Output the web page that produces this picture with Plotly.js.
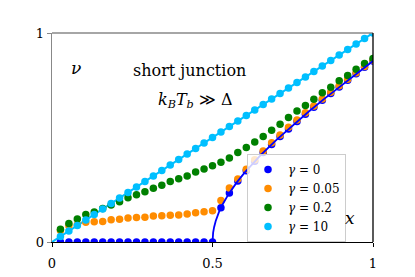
<!DOCTYPE html>
<html>
<head>
<meta charset="utf-8">
<script src="https://cdn.plot.ly/plotly-3.0.1.min.js"></script>
<style>html,body{margin:0;padding:0;background:#fff;}#chart{width:415px;height:277px;}</style>
</head>
<body>
<div id="chart"></div>
<script>
// grid x = k/38, k = 1..38
const xPts = [0.0263,0.0526,0.0789,0.1053,0.1316,0.1579,0.1842,0.2105,0.2368,0.2632,
  0.2895,0.3158,0.3421,0.3684,0.3947,0.4211,0.4474,0.4737,0.5,0.5263,
  0.5526,0.5789,0.6053,0.6316,0.6579,0.6842,0.7105,0.7368,0.7632,0.7895,
  0.8158,0.8421,0.8684,0.8947,0.9211,0.9474,0.9737,1.0];
const nuG0 = [0,0,0,0,0,0,0,0,0,0,
  0,0,0,0,0,0,0,0,0,0.164,
  0.235,0.292,0.341,0.386,0.428,0.467,0.505,0.541,0.577,0.611,
  0.645,0.678,0.710,0.742,0.774,0.805,0.836,0.866];
const nuG005 = [0.055,0.078,0.083,0.095,0.097,0.098,0.107,0.109,0.115,0.117,
  0.118,0.124,0.126,0.128,0.129,0.134,0.140,0.145,0.150,0.198,
  0.258,0.301,0.348,0.393,0.436,0.475,0.512,0.549,0.584,0.618,
  0.651,0.684,0.716,0.748,0.779,0.810,0.840,0.870];
const nuG02 = [0.061,0.089,0.110,0.132,0.144,0.160,0.177,0.193,0.212,0.226,
  0.241,0.257,0.271,0.289,0.303,0.316,0.335,0.349,0.365,0.381,
  0.402,0.428,0.452,0.478,0.505,0.535,0.563,0.596,0.627,0.653,
  0.683,0.714,0.741,0.771,0.797,0.826,0.854,0.878];
const nuG10 = [0.026,0.053,0.079,0.105,0.132,0.158,0.184,0.211,0.237,0.263,
  0.290,0.316,0.342,0.368,0.395,0.421,0.447,0.474,0.500,0.526,
  0.553,0.579,0.605,0.632,0.658,0.684,0.711,0.737,0.763,0.789,
  0.816,0.842,0.868,0.895,0.921,0.947,0.974,1.0];
// theory curves
const xTheory0 = [0.5,0.5001,0.5005,0.502,0.505,0.51,0.52,0.53,0.55,0.575,0.6,0.625,0.65,0.7,0.75,0.8,0.85,0.9,0.95,1.0];
const nuTheory0 = [0,0.01,0.0224,0.0448,0.0709,0.1005,0.1428,0.1758,0.2291,0.2839,0.3317,0.375,0.4153,0.4899,0.559,0.6245,0.6874,0.7483,0.8078,0.866];
const xTheory10 = [0,1];
const nuTheory10 = [0,1];
const seriesNames = ['<i>γ</i> = 0','<i>γ</i> = 0.05','<i>γ</i> = 0.2','<i>γ</i> = 10'];
const colors = ['#0000ff','#ff8c00','#008000','#00bfff'];

const serif = 'DejaVu Serif';
const traces = [];
traces.push({x:xTheory10,y:nuTheory10,mode:'lines',line:{color:colors[3],width:2},showlegend:false,hoverinfo:'skip'});
[nuG0,nuG005,nuG02,nuG10].forEach((ys,i)=>{
  traces.push({x:xPts,y:ys,mode:'markers',name:seriesNames[i],marker:{color:colors[i],size:7.5},cliponaxis:true});
});
traces.push({x:xTheory0,y:nuTheory0,mode:'lines',line:{color:colors[0],width:1.8},showlegend:false,hoverinfo:'skip'});

const layout = {
  width:415,height:277,
  margin:{l:52,r:42,t:33,b:35},
  paper_bgcolor:'#fff',plot_bgcolor:'#fff',
  font:{family:serif,size:13,color:'#000'},
  showlegend:true,
  xaxis:{range:[0,1],tickvals:[0,0.5,1],ticktext:['0','0.5','1'],showgrid:false,zeroline:false,
    showline:true,linecolor:'#000',linewidth:1.3,ticks:'outside',ticklen:4,tickcolor:'#000',
    tickfont:{family:serif,size:13},ticklabelstandoff:5},
  yaxis:{range:[0,1],tickvals:[0,1],ticktext:['0','1'],showgrid:false,zeroline:false,
    showline:true,linecolor:'#888',linewidth:1.3,ticks:'outside',ticklen:4,tickcolor:'#888',
    tickfont:{family:serif,size:13}},
  shapes:[
    {type:'line',xref:'paper',yref:'paper',x0:0,x1:1,y0:1,y1:1,line:{color:'#888',width:1.3}},
    {type:'line',xref:'paper',yref:'paper',x0:1,x1:1,y0:0,y1:1,line:{color:'#000',width:1.3}}
  ],
  legend:{x:(346-52)/321,y:(242-198)/209,xanchor:'right',yanchor:'middle',bgcolor:'rgba(255,255,255,0.8)',
    bordercolor:'#ccc',borderwidth:1,font:{family:serif,size:12},itemwidth:30,tracegroupgap:0},
  annotations:[
    {xref:'paper',yref:'paper',x:(69-52)/321,y:(242-56)/209,text:'<i>ν</i>',showarrow:false,font:{family:serif,size:17}},
    {xref:'paper',yref:'paper',x:(189-52)/321,y:(242-59)/209,text:'short junction',showarrow:false,font:{family:serif,size:16}},
    {xref:'paper',yref:'paper',x:(195-52)/321,y:(242-88)/209,text:'<i>k</i><sub><i>B</i></sub><i>T</i><sub><i>b</i></sub> ≫ Δ',showarrow:false,font:{family:serif,size:16}},
    {xref:'paper',yref:'paper',x:(357-52)/321,y:(242-230)/209,text:'<i>x</i>',showarrow:false,font:{family:serif,size:17}}
  ]
};
Plotly.newPlot('chart',traces,layout,{displayModeBar:false,staticPlot:true});
</script>
</body>
</html>
